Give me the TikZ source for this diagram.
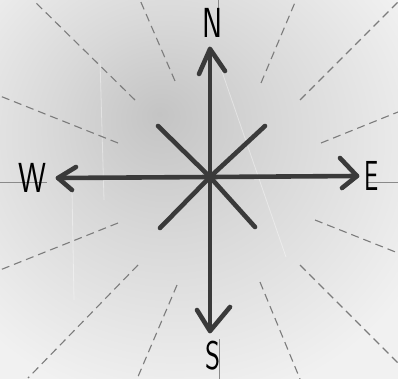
\documentclass[tikz,border=0pt]{standalone}
\definecolor{bgA}{HTML}{C4C4C4}
\definecolor{bgB}{HTML}{D8D8D8}
\definecolor{bgC}{HTML}{F1F1F1}
\definecolor{ink}{HTML}{3A3A3A}
\definecolor{dashc}{HTML}{7C7C7C}
\definecolor{guidec}{HTML}{8A8A8A}
\pgfdeclareradialshading{bgshade}{\pgfpoint{-5bp}{10bp}}{color(0bp)=(bgA); color(14bp)=(bgB); color(34bp)=(bgC); color(70bp)=(bgC)}
\tikzset{
  dashline/.style={draw=dashc, line width=1.1pt, dash pattern=on 8pt off 5pt},
  arrowline/.style={draw=ink, line width=4.6pt, line cap=round, line join=round},
  guideline/.style={draw=guidec, line width=0.9pt},
  scratch/.style={draw=white, line width=0.8pt, opacity=0.4},
  letter/.style={font=\sffamily\fontsize{42}{42}\selectfont, text=black, inner sep=0pt},
}
\begin{document}
\begin{tikzpicture}[x=1pt,y=-1pt]
\useasboundingbox (0,0) rectangle (398,379);
\fill[bgC] (0,0) rectangle (398,379);
\shade[shading=bgshade] (0,0) rectangle (398,379);

% scratches
\draw[scratch] (218,60) -- (286,257);
\draw[scratch] (100,60) -- (104,200);
\draw[scratch] (72,190) -- (74,300);

% dashed radial lines
\draw[dashline] (135,100) -- (33,0);
\draw[dashline] (118,143) -- (0,96);
\draw[dashline] (175,81) -- (140,0);
\draw[dashline] (261,83) -- (296,0);
\draw[dashline] (300,100) -- (398,2);
\draw[dashline] (321,143) -- (398,112);
\draw[dashline] (118,223) -- (0,270);
\draw[dashline] (138,265) -- (28,378);
\draw[dashline] (177,285) -- (137,379);
\draw[dashline] (315,220) -- (398,253);
\draw[dashline] (300,265) -- (398,363);
\draw[dashline] (260,282) -- (300,379);

% thin guide lines behind letters
\coordinate (gW1) at (0,182);   \coordinate (gW2) at (47,182);
\coordinate (gE1) at (367,182); \coordinate (gE2) at (398,182);
\coordinate (gN1) at (218,0);   \coordinate (gN2) at (218,8);
\coordinate (gS1) at (219,339); \coordinate (gS2) at (219,379);
\draw[guideline] (gW1) -- (gW2);
\draw[guideline] (gE1) -- (gE2);
\draw[guideline] (gN1) -- (gN2);
\draw[guideline] (gS1) -- (gS2);

% letters
\node[letter, xscale=0.72] (N) at (213,23) {N};
\node[letter, xscale=0.75] (W) at (32,178) {W};
\node[letter, xscale=0.6] (E) at (372,176) {E};
\node[letter, xscale=0.72, font=\sffamily\fontsize{40}{40}\selectfont] (S) at (213,356) {S};

% compass arrows
\coordinate (C) at (210,177);
\coordinate (Ntip) at (210,49); \coordinate (Nl) at (199,74); \coordinate (Nr) at (225,71);
\coordinate (Stip) at (210,331); \coordinate (Sl) at (197,310); \coordinate (Sr) at (230,307);
\coordinate (Wtip) at (58,178); \coordinate (Wu) at (76,167); \coordinate (Wd) at (72,190);
\coordinate (Etip) at (357,176); \coordinate (Eu) at (340,158); \coordinate (Ed) at (342,188);
\coordinate (NW) at (158,126); \coordinate (SE) at (255,227);
\coordinate (NE) at (265,126); \coordinate (SW) at (160,228);

\draw[arrowline] (Ntip) -- (C) -- (Stip);
\draw[arrowline] (Wtip) -- (C) -- (Etip);
\draw[arrowline] (NW) -- (C) -- (SE);
\draw[arrowline] (NE) -- (C) -- (SW);
\draw[arrowline] (Nl) -- (Ntip) -- (Nr);
\draw[arrowline] (Sl) -- (Stip) -- (Sr);
\draw[arrowline] (Wu) -- (Wtip) -- (Wd);
\draw[arrowline] (Eu) -- (Etip) -- (Ed);
\end{tikzpicture}
\end{document}
